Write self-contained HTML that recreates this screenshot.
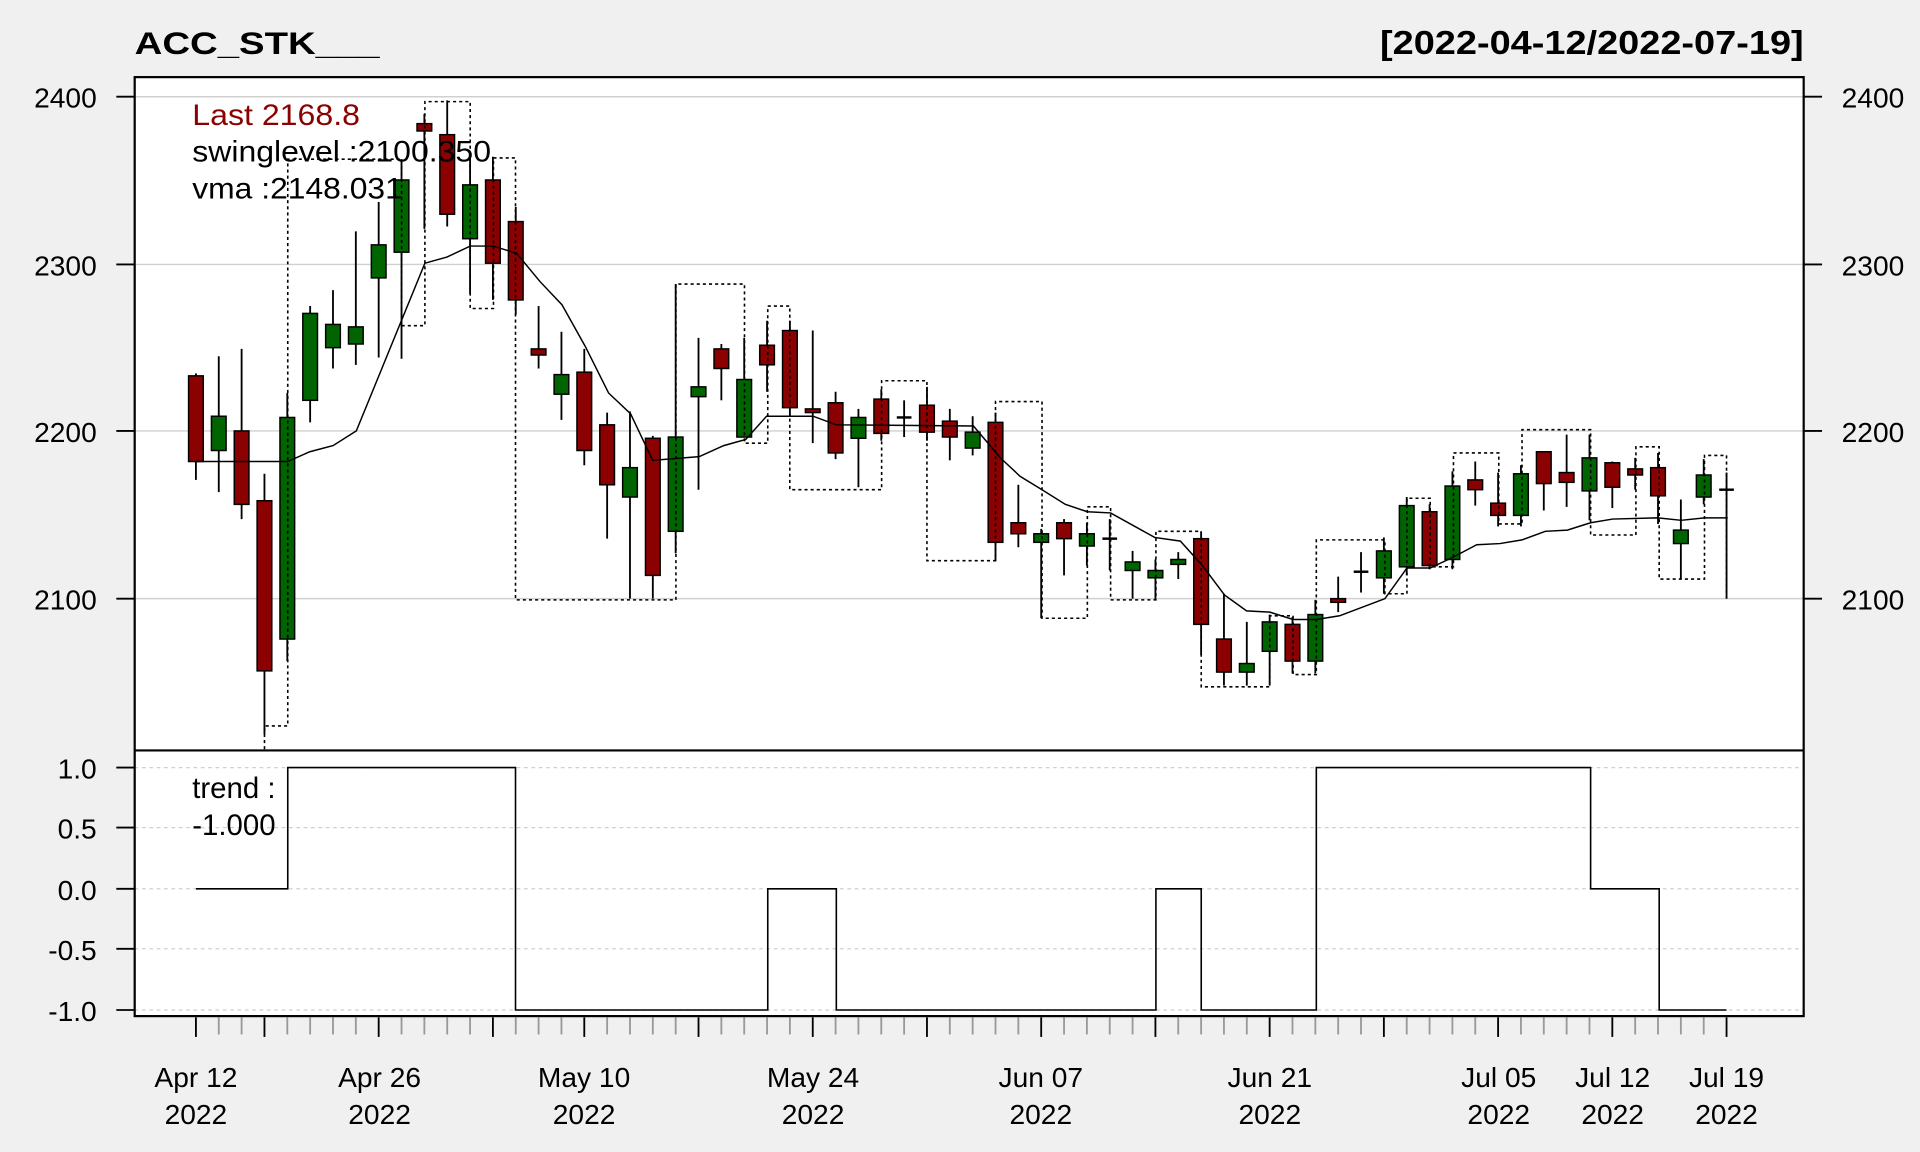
<!DOCTYPE html>
<html><head><meta charset="utf-8"><style>html,body{margin:0;padding:0;background:#f0f0f0;overflow:hidden}svg{display:block}text{font-family:"Liberation Sans",sans-serif}</style></head>
<body>
<svg id="s" width="1920" height="1152" viewBox="0 0 1568 941" preserveAspectRatio="none" xmlns="http://www.w3.org/2000/svg">
<rect x="0" y="0" width="1568" height="941" fill="#f0f0f0"/>
<rect x="110" y="63" width="1363" height="767" fill="#fff"/>
<g stroke="#d0d0d0" stroke-width="1.2">
<line x1="110" x2="1473" y1="79" y2="79"/><line x1="110" x2="1473" y1="216" y2="216"/><line x1="110" x2="1473" y1="352" y2="352"/><line x1="110" x2="1473" y1="489" y2="489"/>
</g>
<g stroke="#cfcfcf" stroke-width="1" stroke-dasharray="3,3">
<line x1="110" x2="1473" y1="627" y2="627"/><line x1="110" x2="1473" y1="676" y2="676"/><line x1="110" x2="1473" y1="726" y2="726"/><line x1="110" x2="1473" y1="775" y2="775"/><line x1="110" x2="1473" y1="825" y2="825"/>
</g>
<g id="c"></g>
<text x="110" y="44" font-size="26" font-weight="bold" textLength="200" lengthAdjust="spacingAndGlyphs">ACC_STK___</text>
<text x="1127" y="44" font-size="27" font-weight="bold" textLength="346" lengthAdjust="spacingAndGlyphs">[2022-04-12/2022-07-19]</text>
<g font-size="23" text-anchor="end">
<text x="79" y="88">2400</text><text x="79" y="225">2300</text><text x="79" y="361">2200</text><text x="79" y="498">2100</text>
<text x="79" y="636">1.0</text><text x="79" y="685">0.5</text><text x="79" y="735">0.0</text><text x="79" y="784">-0.5</text><text x="79" y="834">-1.0</text>
</g>
<g font-size="23">
<text x="1504" y="88">2400</text><text x="1504" y="225">2300</text><text x="1504" y="361">2200</text><text x="1504" y="498">2100</text>
</g>
<g stroke="#000" stroke-width="1.5">
<line x1="95" x2="110" y1="79" y2="79"/><line x1="95" x2="110" y1="216" y2="216"/><line x1="95" x2="110" y1="352" y2="352"/><line x1="95" x2="110" y1="489" y2="489"/>
<line x1="95" x2="110" y1="627" y2="627"/><line x1="95" x2="110" y1="676" y2="676"/><line x1="95" x2="110" y1="726" y2="726"/><line x1="95" x2="110" y1="775" y2="775"/><line x1="95" x2="110" y1="825" y2="825"/>
<line x1="1473" x2="1488" y1="79" y2="79"/><line x1="1473" x2="1488" y1="216" y2="216"/><line x1="1473" x2="1488" y1="352" y2="352"/><line x1="1473" x2="1488" y1="489" y2="489"/>
</g>
<g font-size="23" text-anchor="middle">
<text x="160" y="888">Apr 12</text><text x="160" y="918">2022</text>
<text x="310" y="888">Apr 26</text><text x="310" y="918">2022</text>
<text x="477" y="888">May 10</text><text x="477" y="918">2022</text>
<text x="664" y="888">May 24</text><text x="664" y="918">2022</text>
<text x="850" y="888">Jun 07</text><text x="850" y="918">2022</text>
<text x="1037" y="888">Jun 21</text><text x="1037" y="918">2022</text>
<text x="1224" y="888">Jul 05</text><text x="1224" y="918">2022</text>
<text x="1317" y="888">Jul 12</text><text x="1317" y="918">2022</text>
<text x="1410" y="888">Jul 19</text><text x="1410" y="918">2022</text>
</g>
<g font-size="24">
<text x="157" y="102" fill="#8b0000" textLength="137" lengthAdjust="spacingAndGlyphs">Last 2168.8</text>
<text x="157" y="132" textLength="244" lengthAdjust="spacingAndGlyphs">swinglevel :2100.350</text>
<text x="157" y="162" textLength="172" lengthAdjust="spacingAndGlyphs">vma :2148.031</text>
<text x="157" y="652">trend :</text>
<text x="157" y="682">-1.000</text>
</g>
<path d="M160,726H235V627H421V825H627V726H683V825H944V726H981V825H1075V627H1299V726H1355V825H1410" fill="none" stroke="#000" stroke-width="1.3"/>
<rect x="110" y="63" width="1363" height="767" fill="none" stroke="#000" stroke-width="1.8"/>
<line x1="110" x2="1473" y1="613" y2="613" stroke="#000" stroke-width="1.8"/>
</svg>
<script>
var D=[[307,377,305,392,0],[340,368,291,402,1],[352,412,285,424,0],[409,548,387,600,0],[341,522,321,540,1],[256,327,250,345,1],[265,284,237,301,1],[267,281,189,298,1],[200,227,165,292,1],[147,206,130,293,1],[101,107,93,187,0],[110,175,82,185,0],[151,195,130,240,1],[147,215,128,245,0],[181,245,169,257,0],[285,290,250,301,0],[306,322,271,343,1],[304,368,285,380,0],[347,396,337,440,0],[382,406,336,489,1],[358,470,356,489,0],[357,434,232,452,1],[316,324,276,400,1],[285,301,281,327,0],[310,357,276,357,1],[282,298,262,320,0],[270,333,262,340,0],[334,337,270,362,0],[329,370,320,375,0],[341,358,334,398,1],[326,354,318,360,0],[341,341,327,357,2],[331,353,316,360,0],[344,357,334,376,0],[353,366,340,372,1],[345,443,337,458,0],[427,436,396,447,0],[436,443,432,505,1],[427,440,424,470,0],[436,446,427,462,1],[440,440,424,466,2],[459,466,450,489,1],[466,472,457,490,1],[457,461,451,473,1],[440,510,434,535,0],[522,549,485,560,0],[542,549,508,560,1],[508,532,502,560,1],[510,540,504,550,0],[502,540,490,550,1],[489,492,471,500,0],[467,467,451,484,2],[450,472,439,485,1],[413,463,406,470,1],[418,462,412,465,0],[397,457,385,465,1],[392,400,377,413,0],[411,421,386,430,0],[387,421,380,430,1],[369,395,369,417,0],[386,394,355,414,0],[374,401,355,425,1],[378,398,377,415,0],[383,388,374,400,0],[382,405,370,428,0],[433,444,408,473,1],[388,406,375,412,1],[400,400,386,489,2]];
var X=function(i){return 160+i*18.657};
var h='';
var big=[0,3,8,13,17,22,27,32,37,42,47,52,57,62,67];
for(var i=0;i<68;i++){var x=X(i);var b=big.indexOf(i)>=0;h+='<line x1="'+x+'" x2="'+x+'" y1="831" y2="'+(b?847:845)+'" stroke="'+(b?'#000':'#999')+'" stroke-width="1.5"/>';}
var vma=[[160,377],[235,377],[253,369],[272,364],[291,352],[347,215],[365,210],[384,201],[403,201],[422,207],[441,230],[459,249],[478,283],[497,321],[515,338],[533,376],[571,373],[591,364],[609,359],[626,340],[664,340],[683,347],[795,348],[817,374],[833,389],[851,400],[870,412],[888,418],[907,419],[943,439],[964,442],[982,462],[1000,486],[1018,499],[1037,500],[1056,506],[1075,506],[1094,503],[1131,489],[1149,464],[1168,464],[1187,455],[1206,445],[1225,444],[1243,441],[1262,434],[1280,433],[1299,427],[1317,424],[1354,423],[1373,425],[1392,423],[1411,423]];
var sw='M216,612V593H235V130H328V266H347V83H384V252H403V129H421V490H552V232H608V362H627V250H645V400H720V311H757V458H813V328H851V505H888V414H907V490H944V434H981V561H1037V503H1056V551H1075V441H1131V485H1149V407H1168V463H1187V370H1224V428H1243V351H1299V437H1336V365H1355V473H1392V372H1410V489';
for(var i=0;i<D.length;i++){var d=D[i],x=X(i);
h+='<line x1="'+x+'" x2="'+x+'" y1="'+d[2]+'" y2="'+d[3]+'" stroke="#000" stroke-width="1.5"/>';
if(d[4]==2){h+='<line x1="'+(x-6)+'" x2="'+(x+6)+'" y1="'+d[0]+'" y2="'+d[0]+'" stroke="#000" stroke-width="2"/>';}
else{var hh=Math.max(d[1]-d[0],3);h+='<rect x="'+(x-6)+'" y="'+d[0]+'" width="12" height="'+hh+'" fill="'+(d[4]?'#006400':'#8b0000')+'" stroke="#000" stroke-width="1.2"/>';}}
h+='<path d="'+sw+'" fill="none" stroke="#000" stroke-width="1.3" stroke-dasharray="2.5,2.5"/>';
h+='<polyline points="'+vma.map(function(p){return p.join(',')}).join(' ')+'" fill="none" stroke="#000" stroke-width="1.2"/>';
document.getElementById('c').innerHTML=h;
</script>
</body></html>
